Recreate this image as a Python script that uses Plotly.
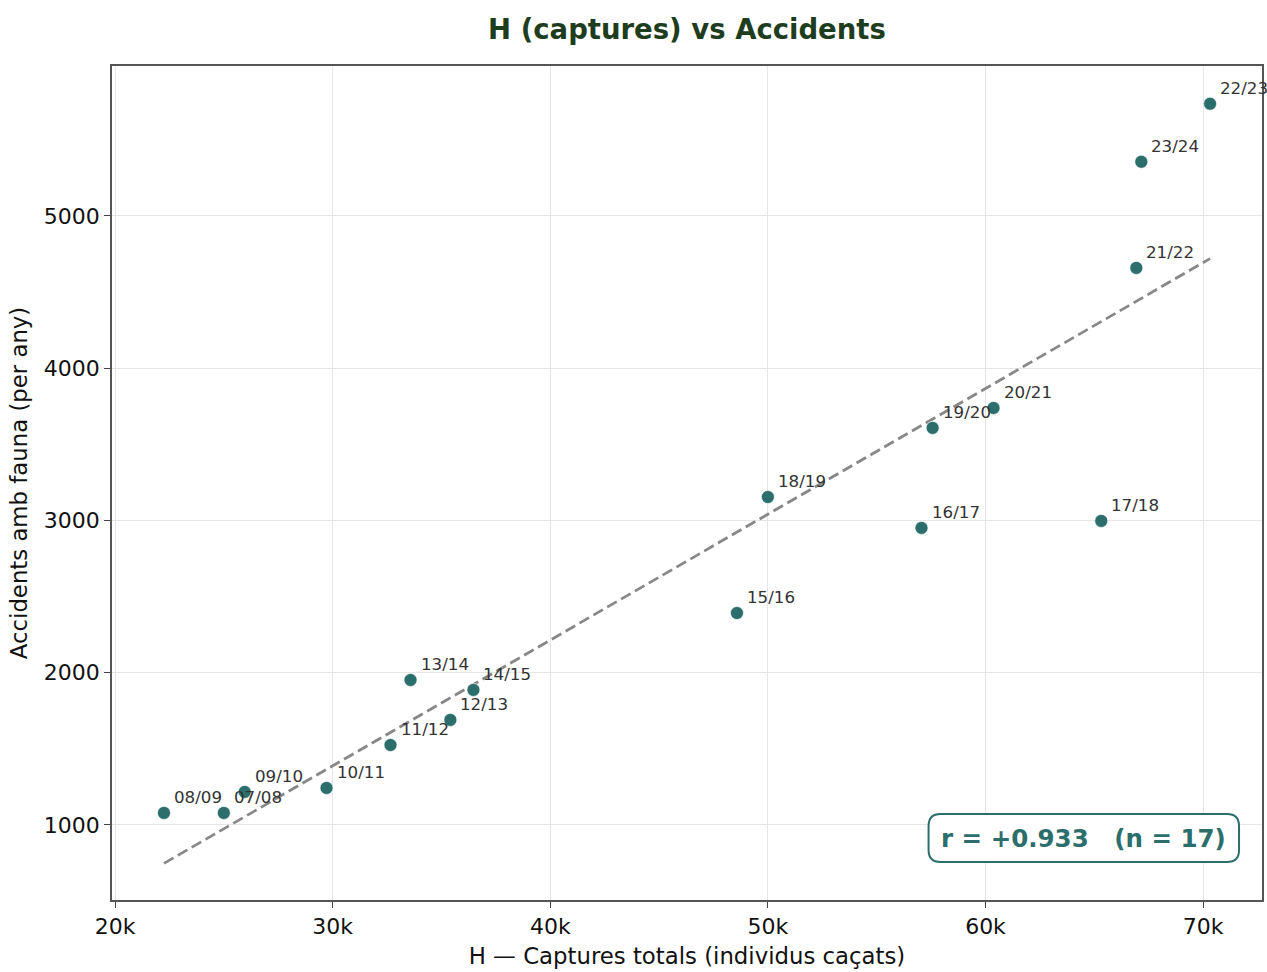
import numpy as np
import plotly.graph_objects as go

seasons = ["07/08", "08/09", "09/10", "10/11", "11/12", "12/13", "13/14", "14/15",
           "15/16", "16/17", "17/18", "18/19", "19/20", "20/21", "21/22", "22/23", "23/24"]
captures = [25000, 22250, 25960, 29720, 32660, 35410, 33580, 36470,
            48580, 57060, 65320, 50000, 57570, 60370, 66930, 70320, 67160]
accidents = [1079, 1079, 1217, 1243, 1525, 1690, 1952, 1887,
             2392, 2951, 2997, 3154, 3608, 3739, 4659, 5737, 5356]
x_ticks = [20000, 30000, 40000, 50000, 60000, 70000]
x_tick_labels = ["20k", "30k", "40k", "50k", "60k", "70k"]
y_ticks = [1000, 2000, 3000, 4000, 5000]
r_text = "r = +0.933\u00a0\u00a0\u00a0(n = 17)"

TEAL = "#2b6e6b"
FONT = "DejaVu Sans"

xa = np.array(captures, dtype=float)
ya = np.array(accidents, dtype=float)
slope, intercept = np.polyfit(xa, ya, 1)
x_line = np.array([xa.min(), xa.max()])
y_line = slope * x_line + intercept

fig = go.Figure()
fig.add_trace(go.Scatter(
    x=x_line, y=y_line, mode="lines",
    line=dict(color="#888888", width=2.8, dash="11px,5px"),
    hoverinfo="skip", showlegend=False))
fig.add_trace(go.Scatter(
    x=captures, y=accidents, mode="markers",
    marker=dict(size=13, color=TEAL, line=dict(color="white", width=0.6)),
    showlegend=False))

for s, xv, yv in zip(seasons, captures, accidents):
    fig.add_annotation(x=xv, y=yv, text=s, showarrow=False,
                       xanchor="left", yanchor="bottom", xshift=8, yshift=4,
                       font=dict(family=FONT, size=16.7, color="#333333"))

# r annotation with rounded box
W, H = 1267, 972
ml, mr, mt, mb = 112, 3, 66, 72
pw, ph = W - ml - mr, H - mt - mb
bx0, bx1, by0, by1 = 930, 1241, 814, 862  # pixel box
def px(x):
    return (x - ml) / pw
def py(y):
    return 1 - (y - mt) / ph
rx, ry = 12 / pw, 12 / ph
x0, x1, y0, y1 = px(bx0), px(bx1), py(by1), py(by0)
path = (f"M {x0+rx},{y0} L {x1-rx},{y0} Q {x1},{y0} {x1},{y0+ry} "
        f"L {x1},{y1-ry} Q {x1},{y1} {x1-rx},{y1} L {x0+rx},{y1} "
        f"Q {x0},{y1} {x0},{y1-ry} L {x0},{y0+ry} Q {x0},{y0} {x0+rx},{y0} Z")
fig.add_shape(type="path", path=path, xref="paper", yref="paper",
              line=dict(color=TEAL, width=2), fillcolor="white", layer="above")
fig.add_annotation(x=(x0 + x1) / 2, y=(y0 + y1) / 2, xref="paper", yref="paper",
                   text=f"<b>{r_text}</b>", showarrow=False,
                   xanchor="center", yanchor="middle",
                   font=dict(family=FONT, size=24.5, color=TEAL))

axis_common = dict(
    showline=True, linecolor="#555555", linewidth=1.5, mirror=True,
    showgrid=True, gridcolor="#e6e6e6", gridwidth=1,
    ticks="outside", ticklen=6, tickcolor="#444444", tickwidth=1.2,
    zeroline=False,
    tickfont=dict(family=FONT, size=22, color="#111111"),
)
fig.update_layout(
    width=W, height=H,
    margin=dict(l=ml, r=mr, t=mt, b=mb),
    plot_bgcolor="white", paper_bgcolor="white",
    title=dict(text="<b>H (captures) vs Accidents</b>", x=0.5, xref="paper",
               y=1 - 29 / H, yanchor="middle",
               font=dict(family=FONT, size=27.5, color="#1e3d1e")),
    xaxis=dict(range=[19862, 72706], tickvals=x_ticks, ticktext=x_tick_labels,
               title=dict(text="H — Captures totals (individus caçats)",
                          font=dict(family=FONT, size=22.8, color="#111111"),
                          standoff=10),
               **axis_common),
    yaxis=dict(range=[507, 5985], tickvals=y_ticks,
               title=dict(text="Accidents amb fauna (per any)",
                          font=dict(family=FONT, size=22.8, color="#111111"),
                          standoff=10),
               **axis_common),
)

fig.write_html("out.html")
